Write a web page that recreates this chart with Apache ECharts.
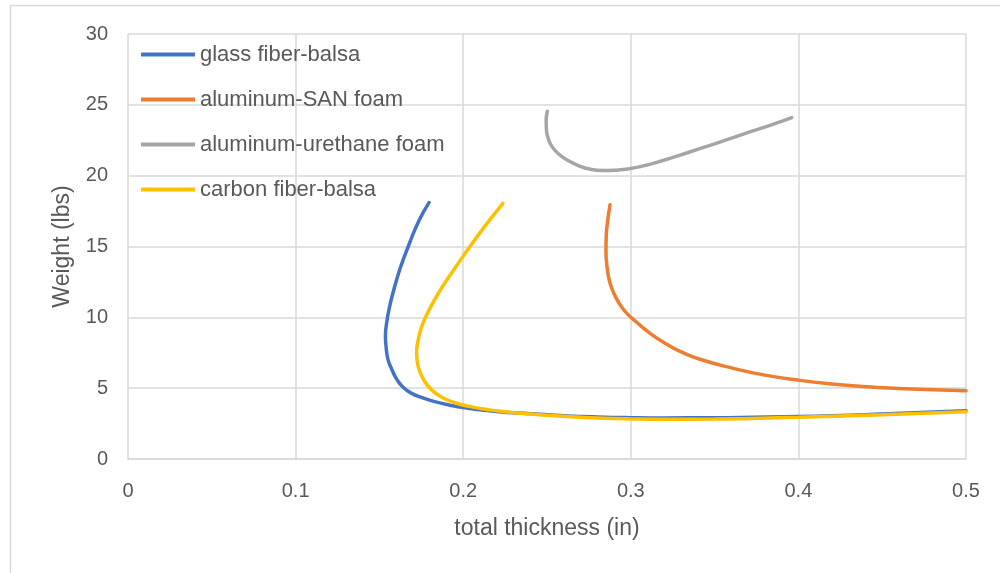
<!DOCTYPE html>
<html>
<head>
<meta charset="utf-8">
<script src="https://cdn.jsdelivr.net/npm/echarts@6/dist/echarts.min.js"></script>
<style>
  html, body { margin: 0; padding: 0; background: #ffffff; }
  #chart { width: 1000px; height: 573px; }
</style>
</head>
<body>
<div id="chart"></div>
<script>
// Sandwich panel weight vs. total thickness, one curve per material pair
const seriesNames = ['glass fiber-balsa', 'aluminum-SAN foam', 'aluminum-urethane foam', 'carbon fiber-balsa'];

// [total thickness (in), weight (lbs)]
const glassBalsa = [
  [0.1796, 18.1], [0.1735, 16.8], [0.1672, 15.0], [0.1625, 13.5], [0.1585, 11.9],
  [0.1558, 10.6], [0.1542, 9.5], [0.1536, 8.7], [0.1540, 7.9], [0.1552, 7.0],
  [0.1575, 6.3], [0.1605, 5.6], [0.1643, 5.05], [0.1690, 4.65], [0.1750, 4.35],
  [0.1830, 4.05], [0.1920, 3.8], [0.2000, 3.63], [0.2200, 3.36], [0.2400, 3.2],
  [0.2600, 3.06], [0.2800, 2.97], [0.3000, 2.92], [0.3200, 2.9], [0.3500, 2.92],
  [0.4000, 3.0], [0.4500, 3.17], [0.5000, 3.4]
];
const aluminumSan = [
  [0.2876, 17.95], [0.2862, 16.8], [0.2853, 15.6], [0.2852, 14.6], [0.2858, 13.6],
  [0.2872, 12.6], [0.2895, 11.8], [0.2930, 11.0], [0.2975, 10.3], [0.3035, 9.65],
  [0.3115, 8.87], [0.3214, 8.1], [0.3294, 7.6], [0.3413, 7.04], [0.3612, 6.4],
  [0.3800, 5.92], [0.4010, 5.55], [0.4200, 5.3], [0.4407, 5.1], [0.4600, 4.98],
  [0.4805, 4.88], [0.5000, 4.82]
];
const aluminumUrethane = [
  [0.2502, 24.55], [0.2495, 23.9], [0.2497, 23.2], [0.2508, 22.6], [0.2530, 22.05],
  [0.2568, 21.55], [0.2620, 21.1], [0.2690, 20.7], [0.2760, 20.45], [0.2830, 20.36],
  [0.2900, 20.38], [0.2970, 20.45], [0.3050, 20.62], [0.3167, 20.98], [0.3333, 21.6],
  [0.3500, 22.25], [0.3667, 22.92], [0.3830, 23.55], [0.3960, 24.1]
];
const carbonBalsa = [
  [0.2237, 18.05], [0.2140, 16.6], [0.2040, 15.0], [0.1952, 13.5], [0.1906, 12.7],
  [0.1862, 11.9], [0.1813, 10.9], [0.1775, 10.0], [0.1751, 9.3], [0.1733, 8.5],
  [0.1722, 7.5], [0.1730, 6.6], [0.1755, 5.8], [0.1790, 5.15], [0.1840, 4.6],
  [0.1900, 4.2], [0.1970, 3.9], [0.2050, 3.68], [0.2140, 3.5], [0.2250, 3.33],
  [0.2400, 3.17], [0.2600, 3.02], [0.2800, 2.9], [0.3000, 2.83], [0.3200, 2.8],
  [0.3500, 2.82], [0.4000, 2.95], [0.4500, 3.12], [0.5000, 3.33]
];

const xTicks = { min: 0, max: 0.5, interval: 0.1 };
const yTicks = { min: 0, max: 30, interval: 5 };

const seriesData = [glassBalsa, aluminumSan, aluminumUrethane, carbonBalsa];
const colors = ['#4472C4', '#ED7D31', '#A5A5A5', '#FFC000'];

const FONT = '"Liberation Sans", Arial, sans-serif';
const TEXT = '#595959';
const GRID = '#d9d9d9';

const chart = echarts.init(document.getElementById('chart'), null, { renderer: 'canvas' });

chart.setOption({
  animation: false,
  backgroundColor: '#ffffff',
  color: colors,
  graphic: [{
    type: 'rect',
    shape: { x: 10.5, y: 5.5, width: 1000, height: 600 },
    style: { fill: 'none', stroke: GRID, lineWidth: 1.5 },
    z: -1
  }],
  grid: { left: 128, right: 34, top: 34, bottom: 114, containLabel: false },
  legend: {
    orient: 'vertical',
    left: 136,
    top: 38,
    itemWidth: 54,
    itemHeight: 4,
    itemGap: 22,
    icon: 'rect',
    textStyle: { fontFamily: FONT, fontSize: 22, color: TEXT, lineHeight: 23 },
    data: seriesNames
  },
  xAxis: {
    type: 'value',
    min: xTicks.min, max: xTicks.max, interval: xTicks.interval,
    name: 'total thickness (in)',
    nameLocation: 'middle',
    nameGap: 58,
    nameTextStyle: { fontFamily: FONT, fontSize: 23, color: TEXT },
    axisLine: { show: true, lineStyle: { color: GRID, width: 1.5 } },
    axisTick: { show: false },
    axisLabel: { fontFamily: FONT, fontSize: 20, color: TEXT, margin: 22 },
    splitLine: { show: true, lineStyle: { color: GRID, width: 1.5 } }
  },
  yAxis: {
    type: 'value',
    min: yTicks.min, max: yTicks.max, interval: yTicks.interval,
    name: 'Weight (lbs)',
    nameLocation: 'middle',
    nameGap: 54,
    nameRotate: 90,
    nameTextStyle: { fontFamily: FONT, fontSize: 23, color: TEXT },
    axisLine: { show: false },
    axisTick: { show: false },
    axisLabel: { fontFamily: FONT, fontSize: 20, color: TEXT, margin: 20 },
    splitLine: { show: true, lineStyle: { color: GRID, width: 1.5 } }
  },
  series: seriesNames.map((name, i) => ({
    name: name,
    type: 'line',
    data: seriesData[i],
    smooth: 0.5,
    showSymbol: false,
    symbol: 'none',
    lineStyle: { width: 3.5, color: colors[i], cap: 'round' },
    itemStyle: { color: colors[i] },
    z: 2 + i
  }))
});
</script>
</body>
</html>
